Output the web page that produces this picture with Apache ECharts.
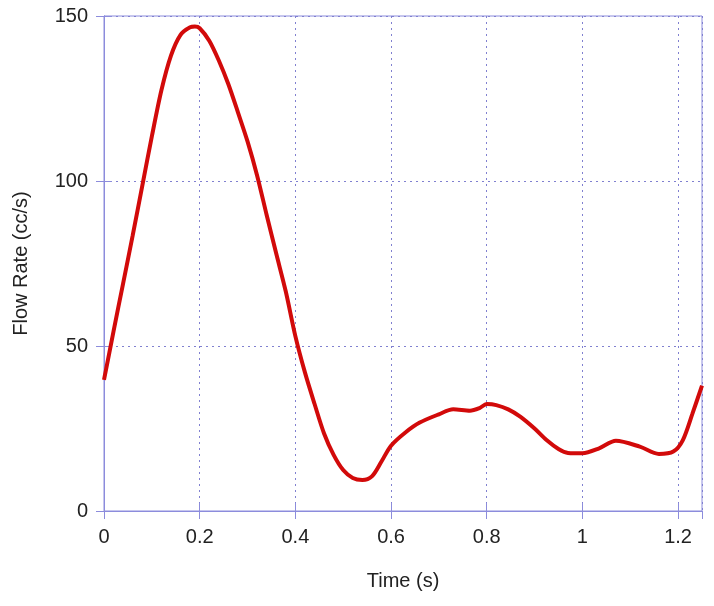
<!DOCTYPE html>
<html><head><meta charset="utf-8">
<script src="https://cdn.jsdelivr.net/npm/echarts@6/dist/echarts.min.js"></script>
<style>html,body{margin:0;padding:0;background:#fff}#c{width:714px;height:606px}</style>
</head><body><div id="c"></div>
<script>
const times = [0, 0.02, 0.04, 0.06, 0.08, 0.10, 0.12, 0.14, 0.16, 0.18, 0.19, 0.20, 0.22, 0.24, 0.26, 0.28, 0.30, 0.32, 0.34, 0.36, 0.38, 0.40, 0.42, 0.44, 0.46, 0.48, 0.50, 0.52, 0.54, 0.56, 0.58, 0.60, 0.63, 0.66, 0.70, 0.73, 0.765, 0.785, 0.80, 0.82, 0.845, 0.87, 0.90, 0.925, 0.95, 0.97, 1.00, 1.035, 1.07, 1.12, 1.16, 1.19, 1.21, 1.23, 1.25];
const flow = [39.7, 54.5, 69, 83.5, 98.5, 113.5, 127.5, 138, 144.3, 146.6, 146.8, 146.3, 142.5, 136.5, 129.3, 120.8, 112, 101.7, 89.7, 78, 66.5, 53, 42, 32.5, 23.5, 17, 12.4, 10, 9.4, 10.5, 15, 19.8, 23.8, 26.8, 29.3, 30.8, 30.4, 31.2, 32.4, 32.1, 30.8, 28.6, 25, 21.5, 18.8, 17.6, 17.5, 19, 21.3, 19.5, 17.3, 18, 21.5, 29.5, 38];
const xTicks = [0, 0.2, 0.4, 0.6, 0.8, 1, 1.2];
const yTicks = [0, 50, 100, 150];

const axisCol = '#8c8cdc';
const gridCol = '#8080d0';
const data = times.map((t, i) => [t, flow[i]]);
const font = {fontFamily: 'Liberation Sans, Arial, sans-serif', fontSize: 20, color: '#222'};
const chart = echarts.init(document.getElementById('c'));
chart.setOption({
  animation: false,
  grid: {left: 104, right: 12, top: 16, bottom: 95, show: true, borderColor: axisCol, borderWidth: 1},
  xAxis: [{
    type: 'value', min: 0, max: 1.25, interval: 0.2,
    name: 'Time (s)', nameLocation: 'middle', nameGap: 60,
    nameTextStyle: font,
    axisLine: {show: true, lineStyle: {color: axisCol}},
    axisTick: {show: true, inside: true, length: 8, lineStyle: {color: axisCol}},
    axisLabel: Object.assign({margin: 16, showMaxLabel: false, formatter: v => xTicks.includes(+v.toFixed(2)) ? String(+v.toFixed(2)) : ''}, font),
    splitLine: {show: true, lineStyle: {color: gridCol, type: [2, 4], width: 1}}
  }, {
    type: 'value', position: 'top', min: 0, max: 1.25, interval: 0.2,
    axisLine: {show: true, lineStyle: {color: axisCol}},
    axisTick: {show: true, inside: true, length: 8, lineStyle: {color: axisCol}},
    axisLabel: {show: false}, splitLine: {show: false}
  }],
  yAxis: [{
    type: 'value', min: 0, max: 150, interval: 50,
    name: 'Flow Rate (cc/s)', nameLocation: 'middle', nameGap: 73,
    nameTextStyle: font,
    axisLine: {show: true, lineStyle: {color: axisCol}},
    axisTick: {show: true, inside: true, length: 8, lineStyle: {color: axisCol}},
    axisLabel: Object.assign({margin: 16, formatter: v => yTicks.includes(v) ? String(v) : ''}, font),
    splitLine: {show: true, lineStyle: {color: gridCol, type: [2, 4], width: 1}}
  }, {
    type: 'value', position: 'right', min: 0, max: 150, interval: 50,
    axisLine: {show: true, lineStyle: {color: axisCol}},
    axisTick: {show: true, inside: true, length: 8, lineStyle: {color: axisCol}},
    axisLabel: {show: false}, splitLine: {show: false}
  }],
  series: [{
    type: 'line', data: data, smooth: 0.3, showSymbol: false,
    lineStyle: {color: '#d20a0a', width: 4}
  }]
});
</script></body></html>
